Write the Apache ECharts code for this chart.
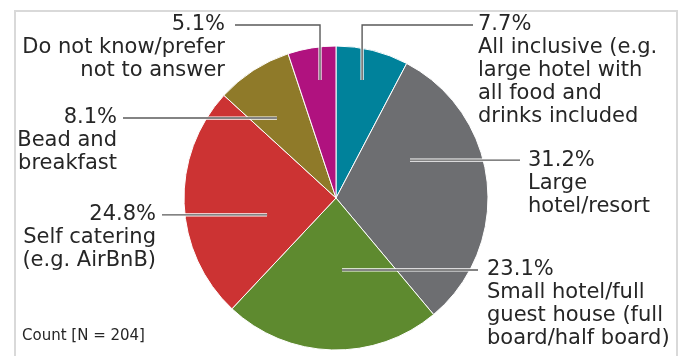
<!DOCTYPE html>
<html>
<head>
<meta charset="utf-8">
<script src="https://cdn.jsdelivr.net/npm/echarts@6/dist/echarts.min.js"></script>
<style>
  html, body { margin: 0; padding: 0; background: #ffffff; }
  #chart { width: 690px; height: 356px; }
</style>
</head>
<body>
<div id="chart"></div>
<script>
// Accommodation type shares (percent of respondents), clockwise from 12 o'clock
const categories = [
  'All inclusive (e.g.\nlarge hotel with\nall food and\ndrinks included',
  'Large\nhotel/resort',
  'Small hotel/full\nguest house (full\nboard/half board)',
  'Self catering\n(e.g. AirBnB)',
  'Bead and\nbreakfast',
  'Do not know/prefer\nnot to answer'
];
const shares = [7.7, 31.2, 23.1, 24.8, 8.1, 5.1];
const sliceColors = ['#00829b', '#6d6e71', '#5e8a2f', '#cc3333', '#8f7a29', '#b0127f'];
const sampleNote = 'Count [N = 204]';

// Pie geometry
const CX = 336, CY = 198, R = 152;
const FONT = 'DejaVu Sans';
const FS = 21, LH = 23;

// Leader lines: start point inside the slice (share of the slice sweep, share of the radius),
// text anchor (tx, ty; ty null = level with the start point), and where the line stops (ex)
const leaders = [
  { frac: 0.45,  rf: 0.795, tx: 478, ty: 25,   ex: 473, align: 'left'  },
  { frac: 0.313, rf: 0.547, tx: 528, ty: null, ex: 520, align: 'left'  },
  { frac: 0.423, rf: 0.475, tx: 487, ty: null, ex: 478, align: 'left'  },
  { frac: 0.37,  rf: 0.467, tx: 156, ty: null, ex: 162, align: 'right' },
  { frac: 0.38,  rf: 0.654, tx: 117, ty: null, ex: 123, align: 'right' },
  { frac: 0.58,  rf: 0.784, tx: 225, ty: 25,   ex: 235, align: 'right' }
];

// Slice start angles (degrees clockwise from the top)
const total = shares.reduce((a, b) => a + b, 0);
const sliceStart = [];
let acc = 0;
shares.forEach(v => { sliceStart.push(acc / total * 360); acc += v; });

function anchorOf(i) {
  const L = leaders[i];
  const sweep = shares[i] / total * 360;
  const th = (sliceStart[i] + L.frac * sweep) * Math.PI / 180;
  const r = L.rf * R;
  return [CX + r * Math.sin(th), CY - r * Math.cos(th)];
}
function textYOf(i) {
  const L = leaders[i];
  return L.ty == null ? anchorOf(i)[1] : L.ty;
}
function leaderPoints(i) {
  const L = leaders[i];
  const a = anchorOf(i);
  const ty = textYOf(i);
  return [[a[0], a[1]], [a[0], ty], [L.ex, ty]];
}

// Leader lines drawn above the slices: a white casing under a grey stroke
const leaderLines = [];
leaders.forEach((L, i) => {
  leaderLines.push({
    type: 'polyline', z: 100, silent: true,
    shape: { points: leaderPoints(i) },
    style: { fill: null, stroke: '#ffffff', lineWidth: 3.2 }
  });
  leaderLines.push({
    type: 'polyline', z: 101, silent: true,
    shape: { points: leaderPoints(i) },
    style: { fill: null, stroke: '#5a5a5a', lineWidth: 1.4 }
  });
});

const chart = echarts.init(document.getElementById('chart'), null, { renderer: 'canvas' });

chart.setOption({
  animation: false,
  backgroundColor: '#ffffff',
  graphic: [
    {
      type: 'rect',
      shape: { x: 15, y: 11, width: 662, height: 360 },
      style: { fill: 'none', stroke: '#d9d9d9', lineWidth: 2 },
      silent: true
    },
    {
      type: 'text',
      left: 22,
      top: 329,
      style: { text: sampleNote, font: '15px "' + FONT + '"', fill: '#262626' },
      silent: true
    }
  ].concat(leaderLines),
  series: [{
    type: 'pie',
    center: [CX, CY],
    radius: R,
    startAngle: 90,
    clockwise: true,
    avoidLabelOverlap: false,
    silent: true,
    emphasis: { disabled: true },
    itemStyle: { borderColor: '#ffffff', borderWidth: 1 },
    label: {
      show: true,
      position: 'outside',
      fontFamily: FONT,
      fontSize: FS,
      lineHeight: LH,
      color: '#262626',
      formatter: p => p.value.toFixed(1) + '%\n' + p.name
    },
    labelLine: { show: false },
    labelLayout: function (params) {
      const i = params.dataIndex;
      const L = leaders[i];
      return {
        x: L.tx,
        y: textYOf(i) - LH / 2,
        align: L.align,
        verticalAlign: 'top'
      };
    },
    data: categories.map((name, i) => ({
      name: name,
      value: shares[i],
      itemStyle: { color: sliceColors[i] }
    }))
  }]
});
</script>
</body>
</html>
